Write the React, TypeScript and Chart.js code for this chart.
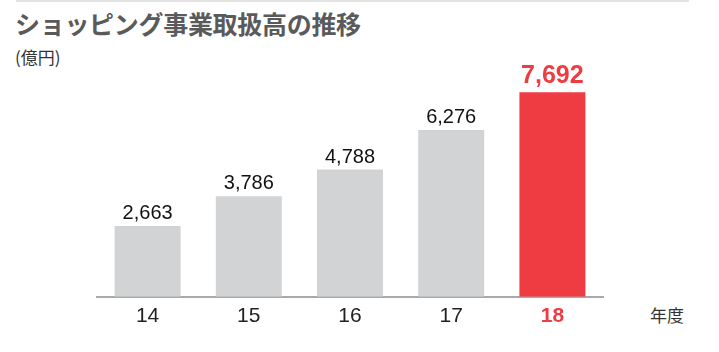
import React, { useEffect, useRef } from "react";
import { Chart, registerables } from "chart.js";

Chart.register(...registerables);

const categories = ["14", "15", "16", "17", "18"];
const values = [2663, 3786, 4788, 6276, 7692];
const valueLabels = ["2,663", "3,786", "4,788", "6,276", "7,692"];
const highlightIndex = 4;

const GRAY = "#d2d3d5";
const RED = "#ef3b42";

const valueLabelPlugin = {
  id: "valueLabels",
  afterDatasetsDraw(chart: any) {
    const ctx = chart.ctx;
    const meta = chart.getDatasetMeta(0);
    ctx.save();
    ctx.textAlign = "center";
    ctx.textBaseline = "alphabetic";
    meta.data.forEach((bar: any, i: number) => {
      const hi = i === highlightIndex;
      ctx.font = hi ? "bold 25px 'Liberation Sans', Arial, sans-serif" : "20px 'Liberation Sans', Arial, sans-serif";
      ctx.fillStyle = hi ? RED : "#111111";
      ctx.fillText(valueLabels[i], bar.x, bar.y - (hi ? 9 : 7));
    });
    ctx.restore();
  },
};

export default function App() {
  const ref = useRef<HTMLCanvasElement | null>(null);
  useEffect(() => {
    document.body.style.margin = "0";
    if (!ref.current) return;
    const chart = new Chart(ref.current, {
      type: "bar",
      data: {
        labels: categories,
        datasets: [
          {
            data: values,
            backgroundColor: values.map((_, i) => (i === highlightIndex ? RED : GRAY)),
            borderWidth: 0,
            barPercentage: 0.652,
            categoryPercentage: 1,
          },
        ],
      },
      options: {
        responsive: false,
        animation: false,
        events: [],
        layout: { padding: { left: 97, right: 116, top: 40, bottom: 16 } },
        plugins: { legend: { display: false }, tooltip: { enabled: false }, title: { display: false } },
        scales: {
          x: {
            grid: { display: false, drawTicks: false },
            border: { display: true, color: "#a9a9a9", width: 2 },
            ticks: {
              padding: 7,
              font: (c: any) =>
                c.index === highlightIndex
                  ? { size: 21, weight: "bold", family: "'Liberation Sans', Arial, sans-serif" }
                  : { size: 21, family: "'Liberation Sans', Arial, sans-serif" },
              color: (c: any) => (c.index === highlightIndex ? RED : "#222222"),
            },
          },
          y: { display: false, min: 0, max: 9660 },
        },
      },
      plugins: [valueLabelPlugin],
    });
    return () => chart.destroy();
  }, []);

  return (
    <div style={{ position: "relative", width: 719, height: 352, background: "#fff", overflow: "hidden" }}>
      <div style={{ position: "absolute", left: 16, top: 0, width: 673, height: 2, background: "#e3e3e3" }} />
      <div
        style={{
          position: "absolute",
          left: 15,
          top: 6,
          fontFamily: "'Noto Sans CJK JP', sans-serif",
          fontWeight: 700,
          fontSize: 25,
          lineHeight: "34px",
          color: "#5a5a5a",
          whiteSpace: "nowrap",
          letterSpacing: "-0.3px",
        }}
      >
        ショッピング事業取扱高の推移
      </div>
      <div
        style={{
          position: "absolute",
          left: 15,
          top: 45,
          fontFamily: "'Noto Sans CJK JP', sans-serif",
          fontSize: 17,
          lineHeight: "24px",
          color: "#333333",
          whiteSpace: "nowrap",
        }}
      >
        (億円)
      </div>
      <div
        style={{
          position: "absolute",
          left: 650,
          top: 303,
          fontFamily: "'Noto Sans CJK JP', sans-serif",
          fontSize: 17,
          lineHeight: "24px",
          color: "#333333",
          whiteSpace: "nowrap",
        }}
      >
        年度
      </div>
      <canvas ref={ref} width={719} height={352} style={{ position: "absolute", left: 0, top: 0 }} />
    </div>
  );
}
